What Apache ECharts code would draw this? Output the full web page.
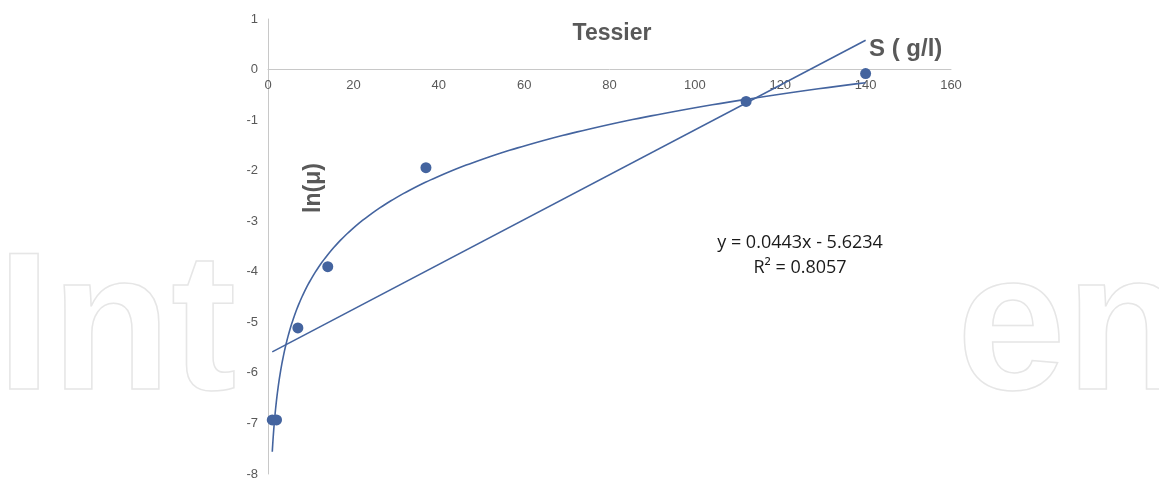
<!DOCTYPE html>
<html>
<head>
<meta charset="utf-8">
<script src="https://cdn.jsdelivr.net/npm/echarts@6/dist/echarts.min.js"></script>
<style>html,body{margin:0;padding:0;background:#fff}#c{width:1159px;height:482px}</style>
</head>
<body>
<div id="c"></div>
<script>
// Data
const substrateS = [1, 2, 7, 14, 37, 112, 140];          // S (g/l)
const lnMu = [-6.93, -6.93, -5.11, -3.9, -1.94, -0.63, -0.08]; // ln(mu)
const xTicks = [0, 20, 40, 60, 80, 100, 120, 140, 160];
const yTicks = [1, 0, -1, -2, -3, -4, -5, -6, -7, -8];
const titleText = 'Tessier';
const xName = 'S ( g/l)';
const yName = 'ln(\u03bc)';
const eqText = 'y = 0.0443x - 5.6234';
const r2Text = 'R\u00b2 = 0.8057';

// Least-squares trendlines (as the spreadsheet computed them) from the data
function fit(xs, ys) {
  const n = xs.length;
  const mx = xs.reduce((a, b) => a + b, 0) / n;
  const my = ys.reduce((a, b) => a + b, 0) / n;
  let sxy = 0, sxx = 0;
  for (let i = 0; i < n; i++) { sxy += (xs[i] - mx) * (ys[i] - my); sxx += (xs[i] - mx) ** 2; }
  const a = sxy / sxx;
  return { a: a, b: my - a * mx };
}
const lin = fit(substrateS, lnMu);
const lg = fit(substrateS.map(Math.log), lnMu);
const xMin = Math.min(...substrateS), xMax = Math.max(...substrateS);
const linLine = [[xMin, lin.a * xMin + lin.b], [xMax, lin.a * xMax + lin.b]];
const logLine = [];
for (let i = 0; i <= 300; i++) {
  const x = xMin * Math.pow(xMax / xMin, i / 300);
  logLine.push([x, lg.a * Math.log(x) + lg.b]);
}

const yMin = Math.min(...yTicks), yMax = Math.max(...yTicks);
const gridTop = 19, gridBottom = 8, H = 482;
const gridH = H - gridTop - gridBottom;
const zeroOffset = -((0 - yMin) / (yMax - yMin)) * gridH;

const blue = '#44649f';
const chart = echarts.init(document.getElementById('c'), null, { renderer: 'canvas' });
chart.setOption({
  backgroundColor: '#fff',
  animation: false,
  title: {
    text: titleText, left: 607, top: 17, textAlign: 'center',
    textStyle: { fontFamily: 'Liberation Sans', fontSize: 23, fontWeight: 'bold', color: '#595959' }
  },
  grid: { left: 268, right: 208, top: gridTop, bottom: gridBottom, outerBoundsMode: 'none', containLabel: false },
  xAxis: {
    type: 'value', min: 0, max: 160, interval: 20, position: 'bottom', offset: zeroOffset,
    axisLine: { onZero: false, lineStyle: { color: '#c8c8c8', width: 1 } },
    axisTick: { show: false },
    splitLine: { show: false },
    axisLabel: { color: '#595959', fontFamily: 'Liberation Sans', fontSize: 13, margin: 9,
      formatter: v => xTicks.includes(v) ? String(v) : '' }
  },
  yAxis: {
    type: 'value', min: yMin, max: yMax, interval: 1,
    axisLine: { show: true, onZero: false, lineStyle: { color: '#c8c8c8', width: 1 } },
    axisTick: { show: false },
    splitLine: { show: false },
    axisLabel: { color: '#595959', fontFamily: 'Liberation Sans', fontSize: 13, margin: 10,
      formatter: v => yTicks.includes(v) ? String(v) : '' }
  },
  graphic: [
    { type: 'text', z: -10, left: -4, top: 236, style: { text: 'Int', font: 'bold 196px "Liberation Sans"', fill: 'rgba(0,0,0,0)', stroke: '#e6e6e6', lineWidth: 1.5 } },
    { type: 'text', z: -10, left: 956, top: 236, style: { text: 'en', font: 'bold 196px "Liberation Sans"', fill: 'rgba(0,0,0,0)', stroke: '#e6e6e6', lineWidth: 1.5 } },
    { type: 'rect', z: -9, shape: { x: 240, y: 0, width: 700, height: 482 }, style: { fill: '#fff' } },
    { type: 'text', z: 10, left: 869, top: 37, style: { text: xName, font: 'bold 24px "Liberation Sans"', fill: '#595959' } },
    { type: 'text', z: 10, x: 314, y: 188, rotation: Math.PI / 2, style: { text: yName, font: 'bold 23px "Liberation Sans"', fill: '#595959', align: 'center', verticalAlign: 'middle' } },
    { type: 'text', z: 10, x: 800, y: 243, style: { text: eqText, font: '18px "Open Sans"', fill: '#1a1a1a', align: 'center', verticalAlign: 'middle' } },
    { type: 'text', z: 10, x: 800, y: 268, style: { text: r2Text, font: '18px "Open Sans"', fill: '#1a1a1a', align: 'center', verticalAlign: 'middle' } }
  ],
  series: [
    { type: 'line', data: logLine, showSymbol: false, symbol: 'none', lineStyle: { color: blue, width: 1.6 }, z: 3 },
    { type: 'line', data: linLine, showSymbol: false, symbol: 'none', lineStyle: { color: blue, width: 1.6 }, z: 3 },
    { type: 'scatter', data: substrateS.map((x, i) => [x, lnMu[i]]), symbolSize: 11, itemStyle: { color: blue, opacity: 1 }, z: 4 }
  ]
});
</script>
</body>
</html>
